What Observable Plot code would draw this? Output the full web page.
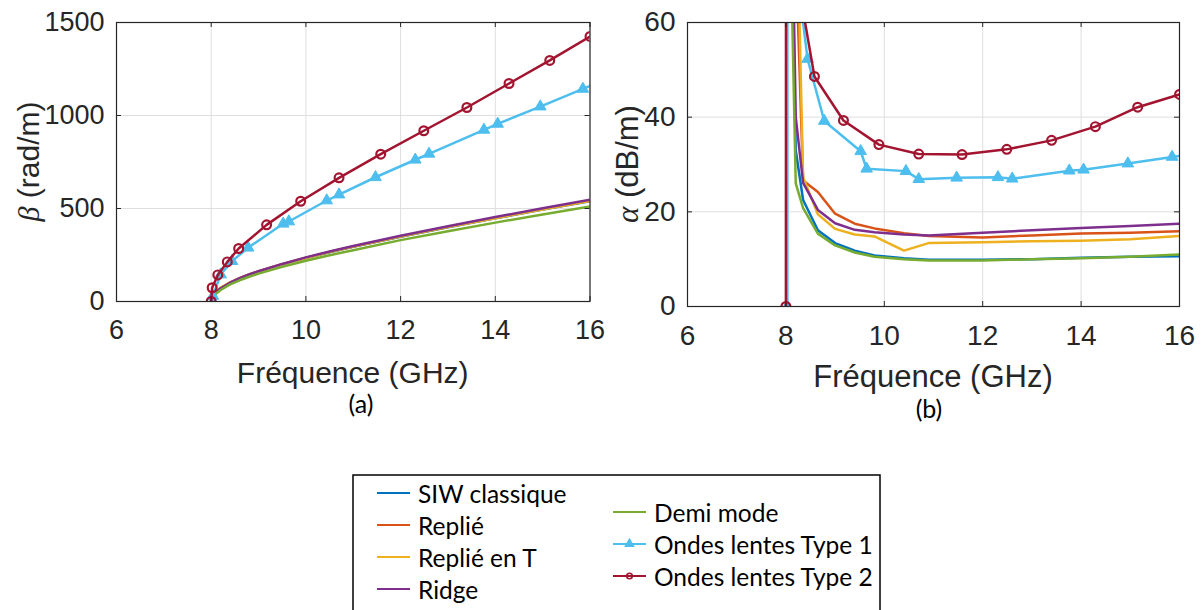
<!DOCTYPE html>
<html><head><meta charset="utf-8">
<script src="https://cdn.jsdelivr.net/npm/d3@7"></script>
<script src="https://cdn.jsdelivr.net/npm/@observablehq/plot@0.6"></script>
<style>
body{margin:0;background:#fff;}
#wrap{position:relative;width:1201px;height:610px;overflow:hidden;background:#fff;}
#wrap > *{position:absolute;}
</style></head><body><div id="wrap"></div>
<script>
// ---------- data ----------
const xTicks = [6, 8, 10, 12, 14, 16];
const betaTicks = [0, 500, 1000, 1500];
const alphaTicks = [0, 20, 40, 60];

const seriesNames = ["SIW classique", "Replié", "Replié en T", "Ridge", "Demi mode", "Ondes lentes Type 1", "Ondes lentes Type 2"];
const seriesColors = ["#0072BD", "#D95319", "#EDB120", "#7E2F8E", "#77AC30", "#4DBEEE", "#A2142F"];

// beta (rad/m) for smooth series
const fBeta = [8.0, 8.05, 8.1, 8.2, 8.4, 8.6, 8.8, 9.0, 9.5, 10, 10.5, 11, 12, 13, 14, 15, 16];
const betaSIW    = [0, 35, 49, 70, 100, 123, 143, 161, 199, 234, 265, 294, 348, 399, 447, 494, 539];
const betaReplie = [0, 38, 53, 74, 103, 126, 146, 163, 201, 235, 267, 296, 350, 402, 450, 497, 542];
const betaReplieT= [0, 37, 52, 73, 102, 125, 145, 162, 200, 234, 266, 295, 349, 400, 448, 495, 540];
const betaRidge  = [0, 35, 50, 71, 101, 125, 145, 163, 202, 237, 269, 298, 353, 405, 454, 501, 547];
const betaDemi   = [0, 28, 42, 62, 92, 114, 133, 150, 186, 219, 249, 276, 330, 378, 424, 468, 511];

// alpha (dB/m) for smooth series
const fAlpha = [8.05, 8.1, 8.2, 8.35, 8.65, 9.0, 9.4, 9.8, 10.4, 10.9, 12, 13, 14, 15, 16];
const alphaSIW    = [800, 90, 33, 22.5, 16.1, 13.4, 11.8, 10.8, 10.2, 9.9, 9.9, 10.0, 10.3, 10.5, 10.6];
const alphaReplie = [1500, 900, 75, 26.6, 24.2, 19.6, 17.5, 16.5, 15.5, 14.9, 14.6, 15.0, 15.4, 15.6, 15.9];
const alphaReplieT= [1500, 900, 95, 27.3, 19.5, 16.4, 15.2, 14.8, 11.8, 13.4, 13.6, 13.8, 13.9, 14.2, 14.9];
const alphaRidge  = [1500, 100, 40, 26.1, 20.4, 17.6, 16.2, 15.7, 15.2, 15.0, 15.6, 16.1, 16.6, 17.0, 17.5];
const alphaDemi   = [800, 75, 26, 20.8, 15.4, 12.9, 11.4, 10.5, 10.0, 9.7, 9.7, 10.0, 10.2, 10.5, 11.0];

// slow-wave type 1 (triangles)
const fT1     = [8.03, 8.035, 8.20, 8.44, 8.78, 9.52, 9.64, 10.44, 10.70, 11.47, 12.31, 12.60, 13.76, 14.05, 14.95, 15.85, 16.2];
const betaT1  = [0, 30, 145, 217, 289, 418, 430, 543, 575, 668, 762, 794, 923, 955, 1048, 1143, 1180];
const alphaT1 = [0, 1500, 72.5, 52.3, 39.2, 32.8, 29.1, 28.6, 26.9, 27.2, 27.3, 27.0, 28.7, 28.9, 30.2, 31.6, 32.1];

// slow-wave type 2 (circles)
const fT2     = [8.0, 8.02, 8.14, 8.34, 8.58, 9.17, 9.89, 10.70, 11.58, 12.49, 13.40, 14.29, 15.15, 16.0];
const betaT2  = [0, 74, 143, 213, 285, 412, 539, 665, 792, 918, 1043, 1172, 1296, 1425];
const alphaT2 = [0, 800, 120, 63, 48.6, 39.3, 34.2, 32.2, 32.1, 33.2, 35.1, 38.0, 42.1, 44.8];

// ---------- tables ----------
function rows(name, fs, vs) { return fs.map((f, i) => ({name, f, v: vs[i]})); }
const betaSmooth = [
  ...rows(seriesNames[0], fBeta, betaSIW), ...rows(seriesNames[1], fBeta, betaReplie),
  ...rows(seriesNames[2], fBeta, betaReplieT), ...rows(seriesNames[3], fBeta, betaRidge),
  ...rows(seriesNames[4], fBeta, betaDemi)];
const alphaSmooth = [
  ...rows(seriesNames[0], fAlpha, alphaSIW), ...rows(seriesNames[1], fAlpha, alphaReplie),
  ...rows(seriesNames[2], fAlpha, alphaReplieT), ...rows(seriesNames[3], fAlpha, alphaRidge),
  ...rows(seriesNames[4], fAlpha, alphaDemi)];
const betaT1Rows = rows(seriesNames[5], fT1, betaT1), alphaT1Rows = rows(seriesNames[5], fT1, alphaT1);
const betaT2Rows = rows(seriesNames[6], fT2, betaT2), alphaT2Rows = rows(seriesNames[6], fT2, alphaT2);

const AX = "#262626", GRID = "#dfdfdf";
const TICKFONT = "Liberation Sans, Arial, sans-serif";
const LW = 2.5;

function panel({width, height, mL, mR, mT, mB, yDomain, yTicks, smooth, t1, t2, fontSize, padX}) {
  const W = width - mL - mR, H = height - mT - mB;
  return Plot.plot({
    width, height, marginLeft: mL, marginRight: mR, marginTop: mT, marginBottom: mB,
    x: {domain: [6, 16]}, y: {domain: yDomain},
    color: {domain: seriesNames, range: seriesColors},
    style: {fontFamily: TICKFONT, fontSize: fontSize + "px", color: AX, background: "transparent", overflow: "visible"},
    marks: [
      Plot.gridX(xTicks, {stroke: GRID, strokeOpacity: 1, strokeWidth: 1}),
      Plot.gridY(yTicks, {stroke: GRID, strokeOpacity: 1, strokeWidth: 1}),
      Plot.line(smooth, {x: "f", y: "v", z: "name", stroke: "name", strokeWidth: LW, clip: true}),
      Plot.line(t1, {x: "f", y: "v", stroke: "name", strokeWidth: LW, clip: true}),
      Plot.dot(t1, {x: "f", y: "v", symbol: "triangle", r: 4.3, fill: "name", stroke: "name", strokeWidth: 1, clip: true}),
      Plot.line(t2, {x: "f", y: "v", stroke: "name", strokeWidth: LW, clip: true}),
      Plot.dot(t2, {x: "f", y: "v", symbol: "circle", r: 4.4, fill: "none", stroke: "name", strokeWidth: 2.2, clip: true}),
      Plot.ruleX(xTicks, {stroke: AX, insetTop: H - 5}),
      Plot.ruleX(xTicks, {stroke: AX, insetBottom: H - 5}),
      Plot.ruleY(yTicks, {stroke: AX, insetRight: W - 5}),
      Plot.ruleY(yTicks, {stroke: AX, insetLeft: W - 5}),
      Plot.frame({stroke: AX, strokeWidth: 1.2}),
      Plot.axisX(xTicks, {tickSize: 0, tickPadding: padX, label: null, fill: AX, tickFormat: d => String(d)}),
      Plot.axisY(yTicks, {tickSize: 0, tickPadding: 12, label: null, fill: AX, tickFormat: d => String(d)})
    ]
  });
}

const wrap = document.getElementById("wrap");
const pA = panel({width: 600, height: 420, mL: 116, mR: 10.5, mT: 22, mB: 119, yDomain: [0, 1500], yTicks: betaTicks,
  smooth: betaSmooth, t1: betaT1Rows, t2: betaT2Rows, fontSize: 27, padX: 18});
pA.style.left = "0px"; pA.style.top = "0px";
wrap.appendChild(pA);
const pB = panel({width: 601, height: 420, mL: 87, mR: 22, mT: 22, mB: 114, yDomain: [0, 60], yTicks: alphaTicks,
  smooth: alphaSmooth, t1: alphaT1Rows, t2: alphaT2Rows, fontSize: 28, padX: 19});
pB.style.left = "600px"; pB.style.top = "0px";
wrap.appendChild(pB);

// ---------- overlay: titles, captions, legend ----------
const svg = d3.select(wrap).append("svg").attr("width", 1201).attr("height", 610)
  .style("left", "0px").style("top", "0px").style("overflow", "hidden");
const sans = "Liberation Sans, Arial, sans-serif";
const cal = "Lato, 'Open Sans', sans-serif";

function xTitle(x, y, fs) {
  svg.append("text").attr("x", x).attr("y", y).attr("text-anchor", "middle")
    .attr("font-family", sans).attr("font-size", fs).attr("fill", AX).text("Fréquence (GHz)");
}
xTitle(352.7, 383, 30);
xTitle(933, 387, 31);

function yTitle(x, y, sym, rest, fs) {
  const t = svg.append("text").attr("transform", `translate(${x},${y}) rotate(-90)`)
    .attr("text-anchor", "middle").attr("dominant-baseline", "central")
    .attr("font-family", sans).attr("font-size", fs).attr("fill", AX);
  t.append("tspan").attr("font-family", "'Liberation Serif', 'DejaVu Serif', serif").attr("font-style", "italic").text(sym);
  t.append("tspan").text(" " + rest);
}
yTitle(28, 161.5, "β", "(rad/m)", 30);
yTitle(627, 164, "α", "(dB/m)", 31);

svg.append("text").attr("x", 361).attr("y", 413).attr("text-anchor", "middle")
  .attr("font-family", cal).attr("font-size", 25).attr("fill", "#000").text("(a)");
svg.append("text").attr("x", 929).attr("y", 418).attr("text-anchor", "middle")
  .attr("font-family", cal).attr("font-size", 25).attr("fill", "#000").text("(b)");

// legend
svg.append("rect").attr("x", 353).attr("y", 475).attr("width", 527).attr("height", 200)
  .attr("fill", "#fff").attr("stroke", "#000").attr("stroke-width", 1.5);
const legendRows = [
  {i: 0, x: 377, y: 493}, {i: 1, x: 377, y: 525}, {i: 2, x: 377, y: 557}, {i: 3, x: 377, y: 589},
  {i: 4, x: 613, y: 512}, {i: 5, x: 613, y: 544}, {i: 6, x: 613, y: 576}];
for (const r of legendRows) {
  const c = seriesColors[r.i];
  svg.append("line").attr("x1", r.x).attr("x2", r.x + 33).attr("y1", r.y).attr("y2", r.y)
    .attr("stroke", c).attr("stroke-width", 2.2);
  if (r.i === 5) {
    svg.append("path").attr("d", d3.symbol(d3.symbolTriangle, 50)()).attr("transform", `translate(${r.x + 16.5},${r.y})`)
      .attr("fill", c);
  }
  if (r.i === 6) {
    svg.append("circle").attr("cx", r.x + 16.5).attr("cy", r.y).attr("r", 2.8)
      .attr("fill", "none").attr("stroke", c).attr("stroke-width", 1.6);
  }
  svg.append("text").attr("x", r.x + 41).attr("y", r.y).attr("dominant-baseline", "central")
    .attr("font-family", cal).attr("font-size", 24.5).attr("fill", "#000").text(seriesNames[r.i]);
}
</script>
</body></html>
